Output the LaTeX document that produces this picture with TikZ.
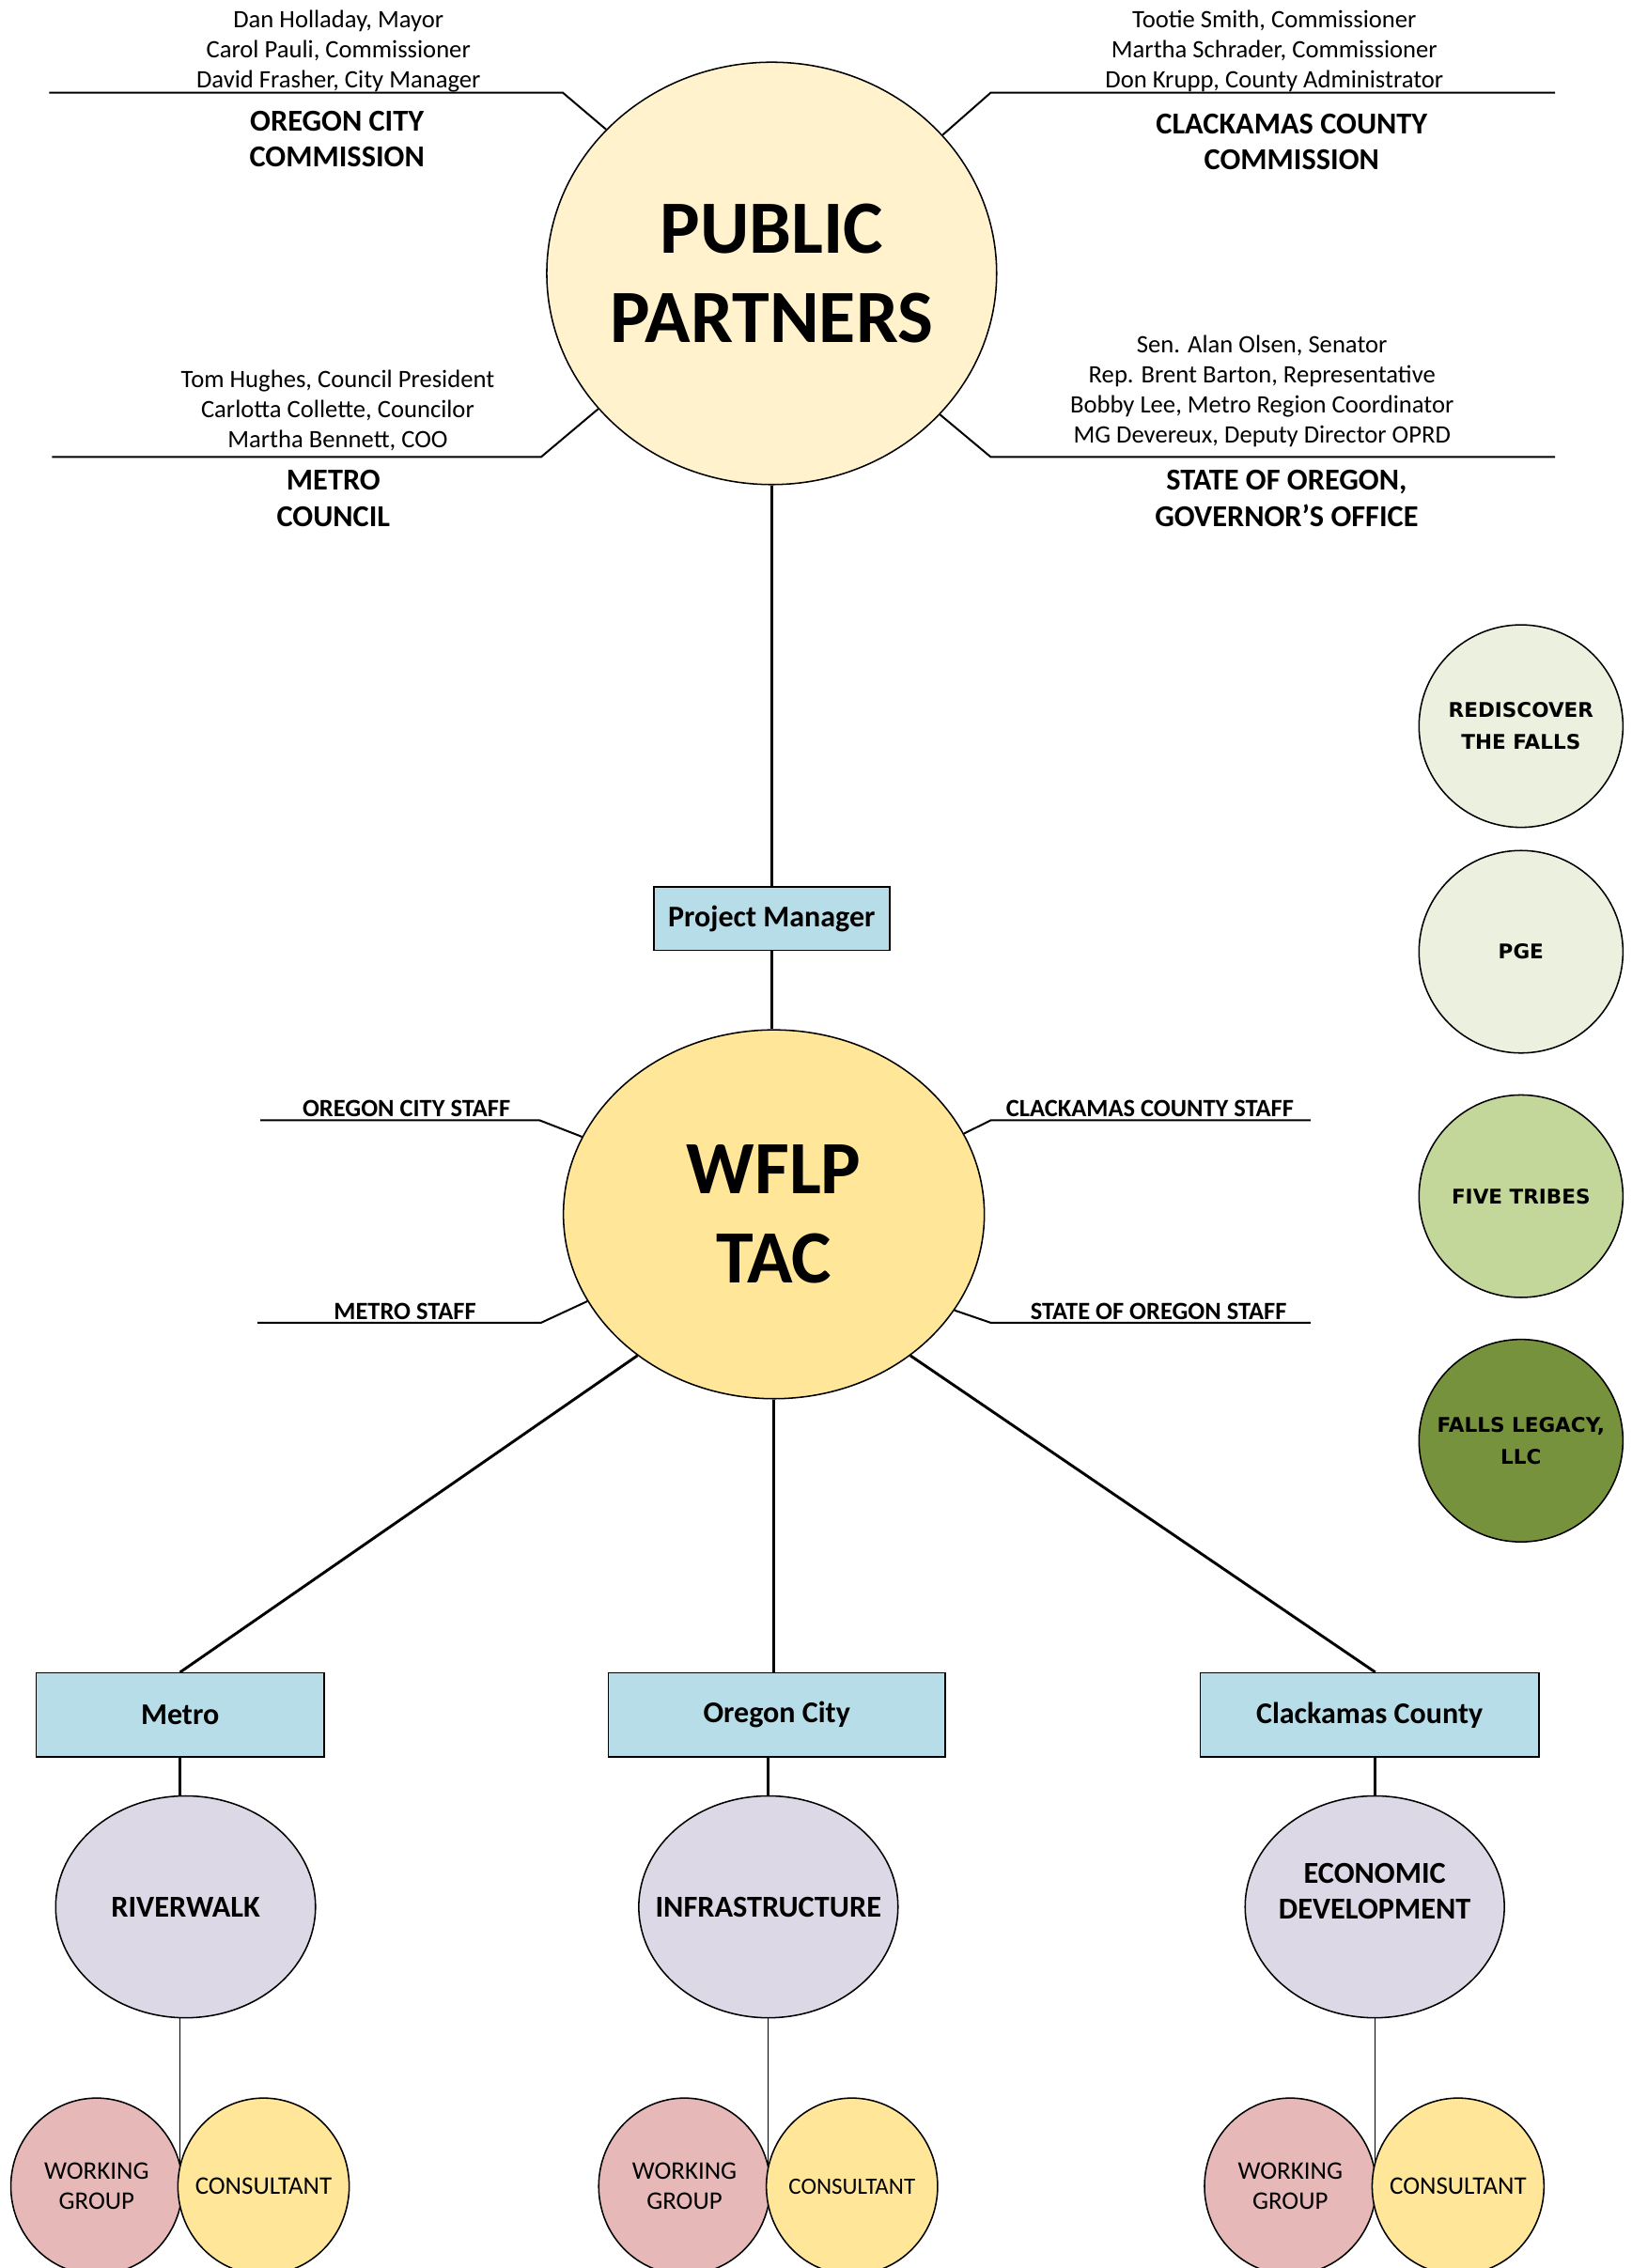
\documentclass[tikz,border=0pt]{standalone}
\usepackage{fontspec}
\setmainfont{Carlito}
\newfontfamily\widefont{DejaVu Sans}
\usetikzlibrary{shapes.geometric}
\definecolor{ppfill}{HTML}{FFF2CC}
\definecolor{tacfill}{HTML}{FFE699}
\definecolor{boxfill}{HTML}{B7DEE8}
\definecolor{lavfill}{HTML}{DDD8E6}
\definecolor{wgfill}{HTML}{E6B8B7}
\definecolor{consfill}{HTML}{FFE699}
\definecolor{gA}{HTML}{EBF1DE}
\definecolor{gB}{HTML}{C4D79B}
\definecolor{gC}{HTML}{76923C}
\tikzset{
  ell/.style={ellipse, draw, line width=1pt, inner sep=0pt},
  orgbox/.style={rectangle, draw, line width=1pt, fill=boxfill, inner sep=0pt, font=\bfseries\fontsize{20.8}{25}\selectfont},
  conn/.style={line width=1.9pt},
  lbl/.style={line width=1.3pt},
  thinline/.style={line width=0.9pt},
  member/.style={align=center, font=\fontsize{17.3}{20.7}\selectfont, inner sep=0pt},
  grouplbl/.style={align=center, font=\bfseries\fontsize{21}{25}\selectfont, inner sep=0pt},
  staff/.style={font=\bfseries\fontsize{17.2}{20}\selectfont, inner sep=0pt, anchor=base},
  bigtxt/.style={align=center, font=\bfseries\fontsize{52}{62}\selectfont},
  areatxt/.style={align=center, font=\bfseries\fontsize{21}{24.6}\selectfont},
  smalltxt/.style={align=center, font=\fontsize{17.5}{21}\selectfont},
  midtxt/.style={align=center, font=\fontsize{16.2}{20}\selectfont},
  sidetxt/.style={align=center, font=\widefont\bfseries\fontsize{14}{22}\selectfont},
}
\begin{document}
\begin{tikzpicture}[x=1pt,y=-1pt]
\useasboundingbox (0,0) rectangle (1128,1568);
% main ellipses
\node[ell, fill=ppfill, minimum width=311pt, minimum height=292pt, label={[bigtxt]center:PUBLIC\\PARTNERS}] (pp) at (533.5,189) {};
\node[ell, fill=tacfill, minimum width=291pt, minimum height=255pt, label={[bigtxt]center:WFLP\\TAC}] (tac) at (535,839.5) {};
\node[orgbox, minimum width=163pt, minimum height=44pt] (pm) at (533.5,635) {Project Manager};
% member blocks
\node[member] (ocm) at (234,35.5) {Dan Holladay, Mayor\\Carol Pauli, Commissioner\\David Frasher, City Manager};
\node[grouplbl] (ocg) at (233,96) {OREGON CITY\\COMMISSION};
\node[member] (ccm) at (881,35.5) {Tootie Smith, Commissioner\\Martha Schrader, Commissioner\\Don Krupp, County Administrator};
\node[grouplbl] (ccg) at (893,98) {CLACKAMAS COUNTY\\COMMISSION};
\node[member] (mcm) at (233.5,284) {Tom Hughes, Council President\\Carlotta Collette, Councilor\\Martha Bennett, COO};
\node[grouplbl] (mcg) at (230.5,344.5) {METRO\\COUNCIL};
\node[member] (som) at (872.5,270.5) {Sen. Alan Olsen, Senator\\Rep. Brent Barton, Representative\\Bobby Lee, Metro Region Coordinator\\MG Devereux, Deputy Director OPRD};
\node[grouplbl] (sog) at (889.5,344.5) {STATE OF OREGON,\\GOVERNOR’S OFFICE};
% label lines of public partners
\coordinate (tlA) at (389,64); \coordinate (tlB) at (34,64);
\coordinate (trA) at (685,64); \coordinate (trB) at (1075,64);
\coordinate (blA) at (374,316); \coordinate (blB) at (36,316);
\coordinate (brA) at (685,316); \coordinate (brB) at (1075,316);
\draw[lbl] (pp.139) -- (tlA) -- (tlB);
\draw[lbl] (pp.39.5) -- (trA) -- (trB);
\draw[lbl] (pp.218) -- (blA) -- (blB);
\draw[lbl] (pp.320) -- (brA) -- (brB);
% staff lines
\coordinate (s1A) at (373,774.5); \coordinate (s1B) at (180,774.5);
\coordinate (s2A) at (685,774.5); \coordinate (s2B) at (906,774.5);
\coordinate (s3A) at (374,914.5); \coordinate (s3B) at (178,914.5);
\coordinate (s4A) at (685,914.5); \coordinate (s4B) at (906,914.5);
\draw[lbl] (tac.158.5) -- (s1A) -- (s1B);
\draw[lbl] (tac.23.3) -- (s2A) -- (s2B);
\draw[lbl] (tac.205.2) -- (s3A) -- (s3B);
\draw[lbl] (tac.332.9) -- (s4A) -- (s4B);
\node[staff] (s1t) at (281,772) {OREGON CITY STAFF};
\node[staff] (s2t) at (795,772) {CLACKAMAS COUNTY STAFF};
\node[staff] (s3t) at (280,912) {METRO STAFF};
\node[staff] (s4t) at (801,912) {STATE OF OREGON STAFF};
% vertical connectors
\draw[conn] (pp.south) -- (pp.south |- pm.north);
\draw[conn] (pm.south) -- (pm.south |- tac.north);
% lower boxes
\node[orgbox, minimum width=199pt, minimum height=58pt] (metro) at (124.5,1185.6) {Metro};
\node[orgbox, minimum width=233pt, minimum height=58pt] (oc) at (537,1185.6) {Oregon City};
\node[orgbox, minimum width=234pt, minimum height=58pt] (cc) at (946.8,1185.6) {Clackamas County};
\draw[conn] (tac.226.9) -- (metro.north);
\draw[conn] (tac.south) -- (tac.south |- oc.north);
\draw[conn] (tac.314.3) -- ([xshift=4pt]cc.north);
% area ellipses
\node[ell, fill=lavfill, minimum width=179.6pt, minimum height=153.4pt, label={[areatxt]center:RIVERWALK}] (rw) at (128.3,1318.3) {};
\node[ell, fill=lavfill, minimum width=179.2pt, minimum height=153.4pt, label={[areatxt]center:INFRASTRUCTURE}] (inf) at (531.2,1318.3) {};
\node[ell, fill=lavfill, minimum width=179.2pt, minimum height=153.4pt, label={[areatxt, yshift=11pt]center:ECONOMIC\\DEVELOPMENT}] (econ) at (950.4,1318.3) {};
\draw[conn] (metro.south) -- (metro.south |- rw.north);
\draw[conn] (oc.south -| inf.north) -- (inf.north);
\draw[conn] ([xshift=4pt]cc.south) -- ([xshift=4pt]cc.south |- econ.north);
% junction coordinates and thin lines
\coordinate (j1) at (124.5,1497);
\coordinate (j2) at (531,1497);
\coordinate (j3) at (950.6,1497);
\draw[thinline] (rw.south -| j1) -- (j1);
\draw[thinline] (inf.south -| j2) -- (j2);
\draw[thinline] (econ.south -| j3) -- (j3);
% working groups and consultants
\node[ell, fill=wgfill, minimum width=118.6pt, minimum height=122pt, label={[smalltxt]center:WORKING\\GROUP}] (wg1) at (66.8,1511.5) {};
\node[ell, fill=consfill, minimum width=118.4pt, minimum height=122pt, label={[smalltxt]center:CONSULTANT}] (co1) at (182.2,1511.5) {};
\node[ell, fill=wgfill, minimum width=118.6pt, minimum height=122pt, label={[smalltxt]center:WORKING\\GROUP}] (wg2) at (473.2,1511.5) {};
\node[ell, fill=consfill, minimum width=118.4pt, minimum height=122pt, label={[midtxt]center:CONSULTANT}] (co2) at (589,1511.5) {};
\node[ell, fill=wgfill, minimum width=118.6pt, minimum height=122pt, label={[smalltxt]center:WORKING\\GROUP}] (wg3) at (892,1511.5) {};
\node[ell, fill=consfill, minimum width=118.8pt, minimum height=122pt, label={[smalltxt]center:CONSULTANT}] (co3) at (1008,1511.5) {};
% side circles
\node[ell, fill=gA, minimum width=141pt, minimum height=140pt, label={[sidetxt]center:REDISCOVER\\THE FALLS}] (rd) at (1051.5,502) {};
\node[ell, fill=gA, minimum width=141pt, minimum height=140pt, label={[sidetxt]center:PGE}] (pge) at (1051.5,658) {};
\node[ell, fill=gB, minimum width=141pt, minimum height=140pt, label={[sidetxt]center:FIVE TRIBES}] (ft) at (1051.5,827) {};
\node[ell, fill=gC, minimum width=141pt, minimum height=140pt, label={[sidetxt]center:FALLS LEGACY,\\LLC}] (fl) at (1051.5,996) {};
\end{tikzpicture}
\end{document}
